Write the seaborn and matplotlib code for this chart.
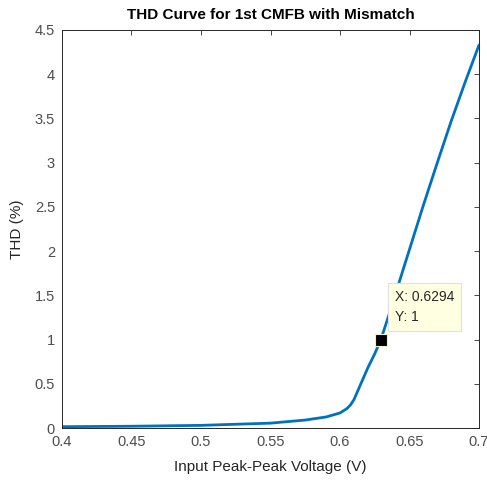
import matplotlib
matplotlib.use("Agg")
import matplotlib.pyplot as plt
import seaborn as sns
import pandas as pd

# Data
vpp = [0.40, 0.45, 0.50, 0.55, 0.575, 0.59, 0.60, 0.605, 0.6075, 0.61, 0.6125, 0.615,
       0.6175, 0.62, 0.625, 0.6294, 0.635, 0.64, 0.65, 0.66, 0.67, 0.68, 0.69, 0.70]
thd = [0.015, 0.02, 0.03, 0.055, 0.09, 0.125, 0.17, 0.22, 0.26, 0.32, 0.41, 0.50,
       0.59, 0.68, 0.84, 1.0, 1.27, 1.52, 2.02, 2.52, 3.0, 3.47, 3.91, 4.33]
tip_x = 0.6294
tip_y = 1
x_ticks = [0.4, 0.45, 0.5, 0.55, 0.6, 0.65, 0.7]
x_tick_labels = ["0.4", "0.45", "0.5", "0.55", "0.6", "0.65", "0.7"]
y_ticks = [0, 0.5, 1, 1.5, 2, 2.5, 3, 3.5, 4, 4.5]
y_tick_labels = ["0", "0.5", "1", "1.5", "2", "2.5", "3", "3.5", "4", "4.5"]

df = pd.DataFrame({"Vpp": vpp, "THD": thd})

sns.set_theme(style="white")
plt.rcParams["font.family"] = ["Liberation Sans", "DejaVu Sans"]

fig = plt.figure(figsize=(4.87, 4.82), dpi=100)
ax = fig.add_axes([0.1273, 0.112, 0.8563, 0.8258])

sns.lineplot(data=df, x="Vpp", y="THD", ax=ax, color="#0072BD", linewidth=2.0)

ax.set_xlim(0.4, 0.7)
ax.set_ylim(0, 4.5)
ax.set_xticks(x_ticks)
ax.set_xticklabels(x_tick_labels)
ax.set_yticks(y_ticks)
ax.set_yticklabels(y_tick_labels)
ax.tick_params(direction="in", length=3.5, width=0.6, colors="#262626",
               labelsize=10.5, top=True, right=True, labelcolor="#4d4d4d", pad=5)
for s in ax.spines.values():
    s.set_visible(True)
    s.set_color("#262626")
    s.set_linewidth(0.7)

ax.set_xlabel("Input Peak-Peak Voltage (V)", fontsize=11, color="#262626", labelpad=8)
ax.set_ylabel("THD (%)", fontsize=11, color="#262626", labelpad=8)
ax.set_title("THD Curve for 1st CMFB with Mismatch", fontsize=11, fontweight="bold",
             color="black", pad=8)

ax.plot([tip_x], [tip_y], marker="s", markersize=8, color="black",
        markeredgecolor="#f0f0c8", markeredgewidth=0.8, zorder=5)
ax.annotate(f"X: {tip_x}\nY: {tip_y}", xy=(tip_x, tip_y), xytext=(14, 50),
            textcoords="offset pixels", ha="left", va="top", fontsize=10,
            color="#262626", linespacing=1.55,
            bbox=dict(boxstyle="square,pad=0.5", fc="#FFFFE1", ec="#e0e0e0", lw=0.8),
            zorder=6)

fig.savefig("out.png", dpi=100, facecolor="white")
